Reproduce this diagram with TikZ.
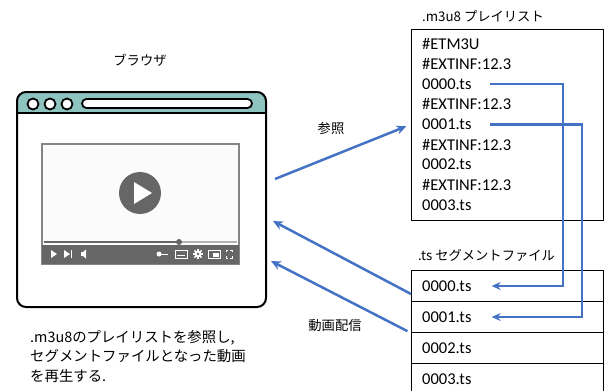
\documentclass[tikz,border=0pt]{standalone}
\usepackage{fontspec}
\setmainfont{Carlito}
\newfontfamily\jp{Noto Sans CJK JP}
\usetikzlibrary{arrows.meta}

\definecolor{barra}{HTML}{8DC4C0}
\definecolor{azul}{HTML}{4472C4}
\definecolor{gris}{HTML}{666666}

\tikzset{
    flecha/.style={azul, line width=2.5pt, -{Stealth[length=10pt,width=9pt]}},
    enlace/.style={azul, line width=2.3pt, -{Stealth[length=9pt,width=8pt]}},
    linea/.style={font=\fontsize{16.5}{18}\selectfont, anchor=west, inner sep=0pt},
    titulo/.style={font=\jp\fontsize{13.3}{15}\selectfont, inner sep=0pt},
    celda/.style={draw, line width=1pt, minimum width=192pt, minimum height=31pt, anchor=north west, inner sep=0pt},
}

\begin{document}
\begin{tikzpicture}[x=1pt, y=-1pt]

    \useasboundingbox (0,0) rectangle (608,391);

    % Dibujar la ventana del navegador
    \begin{scope}
        \clip[rounded corners=9pt] (17,92) rectangle (266,307);
        \fill[barra] (17,92) rectangle (266,113);
    \end{scope}
    \draw[line width=2pt, rounded corners=9pt] (17,92) rectangle (266,307);
    \draw[line width=2pt] (17,113) -- (266,113);
    \foreach \x in {33,50,67} {
        \draw[line width=1.8pt, fill=white] (\x,104) circle[radius=5.5pt];
    }
    \draw[line width=1.8pt, fill=white, rounded corners=4.5pt] (82,99) rectangle (252,108);

    % Dibujar el reproductor de video
    \draw[gris!80, line width=1.5pt, fill=gray!3] (42,144) rectangle (239,264);
    \fill[gris] (42,245) rectangle (239,264);
    \draw[gray!60, line width=1.5pt] (44,242) -- (237,242);
    \draw[gris, line width=1.5pt] (44,242) -- (179,242);
    \fill[gris] (179,242) circle[radius=3pt];
    \fill[gris] (140,193) circle[radius=21pt];
    \fill[white] (134,182) -- (152,193) -- (134,204) -- cycle;

    % Iconos de la barra de control
    \fill[white] (51,250) -- (57,254) -- (51,258) -- cycle;
    \fill[white] (64,250) -- (70,254) -- (64,258) -- cycle;
    \draw[white, line width=1pt] (71,250) -- (71,258);
    \fill[white] (81,252) rectangle (83,256);
    \fill[white] (83,252) -- (86,249.5) -- (86,258.5) -- (83,256) -- cycle;
    \draw[white, line width=1pt] (157,254) -- (168,254);
    \fill[white] (159,254) circle[radius=2.5pt];
    \draw[white, line width=1pt] (175,250) rectangle (187,258);
    \draw[white, line width=0.8pt] (177,255) -- (185,255);
    \fill[white] (198,254) circle[radius=3.5pt];
    \foreach \a in {0,45,...,315} {
        \draw[white, line width=1.5pt] (198,254) -- ++(\a:5);
    }
    \fill[gris] (198,254) circle[radius=1.3pt];
    \draw[white, line width=1pt] (208,250) rectangle (220,258);
    \fill[white] (213,253) rectangle (219,257);
    \draw[white, line width=1pt] (226,252) -- (226,250) -- (228,250) (230,250) -- (232,250) -- (232,252)
        (232,256) -- (232,258) -- (230,258) (228,258) -- (226,258) -- (226,256);

    % Textos del navegador
    \node[titulo] (navegador) at (140,60) {ブラウザ};
    \node[titulo, anchor=north west, align=left, font=\jp\fontsize{14.4}{19.5}\selectfont] (nota) at (30,330)
        {.m3u8のプレイリストを参照し,\\セグメントファイルとなった動画\\を再生する.};

    % Dibujar la lista de reproduccion
    \node[titulo, anchor=west] (tlista) at (422,16) {.m3u8 プレイリスト};
    \node[draw, line width=1pt, minimum width=192pt, minimum height=191pt, anchor=north west] (plista) at (411,29) {};
    \foreach \t [count=\i] in {\#ETM3U, \#EXTINF:12.3, 0000.ts, \#EXTINF:12.3, 0001.ts,
                               \#EXTINF:12.3, 0002.ts, \#EXTINF:12.3, 0003.ts} {
        \node[linea] (pl\i) at (422, {44+20.1*(\i-1)}) {\t};
    }

    % Dibujar los segmentos
    \node[titulo, anchor=west] (tsegm) at (418,255) {.ts セグメントファイル};
    \foreach \t [count=\i] in {0000.ts, 0001.ts, 0002.ts, 0003.ts} {
        \node[celda] (fila\i) at (411, {270+31*(\i-1)}) {};
        \node[linea] (sg\i) at ([xshift=11pt]fila\i.west) {\t};
    }

    % Enlaces de la lista a los segmentos
    \coordinate (giro1) at (563,0);
    \coordinate (giro2) at (582,0);
    \draw[enlace] ([xshift=18pt]pl3.east) -- (giro1 |- pl3.east) -- (giro1 |- fila1.center)
        -- ([xshift=20pt]sg1.east);
    \draw[enlace] ([xshift=18pt]pl5.east) -- (giro2 |- pl5.east) -- (giro2 |- sg2.east)
        -- ([xshift=20pt]sg2.east);

    % Flechas entre el navegador y los archivos
    \coordinate (ref-ini) at (275,179);
    \coordinate (dist-fin1) at (273,221);
    \coordinate (dist-fin2) at (271,261);
    \draw[flecha, shorten >=5pt] (ref-ini) -- (plista.west |- pl5.west);
    \draw[flecha] ([yshift=-8pt]fila1.west) -- (dist-fin1);
    \draw[flecha, shorten <=4pt] (fila2.south west) -- (dist-fin2);
    \node[titulo] (ref) at (331,128) {参照};
    \node[titulo] (dist) at (335,325) {動画配信};

\end{tikzpicture}
\end{document}
